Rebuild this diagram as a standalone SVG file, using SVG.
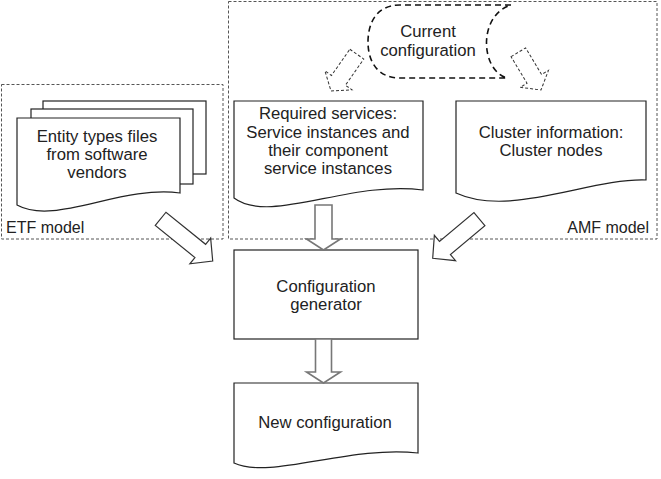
<svg xmlns="http://www.w3.org/2000/svg" width="661" height="479" viewBox="0 0 661 479">
<style>
text{font-family:"Liberation Sans",Arial,sans-serif;font-size:16.7px;fill:#222;text-anchor:middle}
text.lbl{font-size:16px}
.grp{fill:none;stroke:#555;stroke-width:1;stroke-dasharray:3,2}
.doc{fill:#fff;stroke:#222;stroke-width:1.2}
.blk{fill:#fff;stroke:#333;stroke-width:1.2}
.vblk{fill:#fff;stroke:#777;stroke-width:1.6}
.dsh{fill:#fff;stroke:#333;stroke-width:1;stroke-dasharray:3,2}
.store{fill:#fff;stroke:#111;stroke-width:1.6;stroke-dasharray:6,4}
</style>
<g id="etf-model">
<rect class="grp" x="1.5" y="84.5" width="221.5" height="154.5"/>
<text class="lbl" x="6" y="233" style="text-anchor:start">ETF model</text>
</g>
<g id="amf-model">
<rect class="grp" x="228.5" y="1.5" width="428.5" height="237.5"/>
<text class="lbl" x="649" y="233" style="text-anchor:end">AMF model</text>
</g>
<g id="entity-files">
<rect class="doc" x="43" y="101" width="163" height="73"/>
<rect class="doc" x="31" y="109" width="162" height="75"/>
<path class="doc" d="M17,118 H180 V193 C120,185 55,226 17,205 Z"/>
<text x="97" y="142">Entity types files</text>
<text x="97" y="160">from software</text>
<text x="97" y="178">vendors</text>
</g>
<g id="current-configuration">
<path class="store" d="M511,5 H400 C375,5 368,25 368,42 C368,62 378,78 400,78 H507 C480,70 478,15 511,5 Z"/>
<text x="428" y="37">Current</text>
<text x="428" y="56">configuration</text>
</g>
<g id="required-services">
<path class="doc" d="M234,101 H423 V190 C350,180 270,225 234,198 Z"/>
<text x="328" y="119">Required services:</text>
<text x="328" y="137.5">Service instances and</text>
<text x="328" y="156">their component</text>
<text x="328" y="174">service instances</text>
</g>
<g id="cluster-information">
<path class="doc" d="M456,101 H646 V180 C590,178 510,218 456,193 Z"/>
<text x="551" y="138">Cluster information:</text>
<text x="551" y="156">Cluster nodes</text>
</g>
<g id="configuration-generator">
<rect class="doc" x="234" y="250" width="184" height="89"/>
<text x="326" y="292">Configuration</text>
<text x="326" y="310">generator</text>
</g>
<g id="new-configuration">
<path class="doc" d="M234,383 H418 V453 C350,445 270,480 234,463 Z"/>
<text x="325" y="428">New configuration</text>
</g>
<g id="connectors">
<path class="dsh" transform="translate(331,91) rotate(35)" d="M-8.5,-45 H8.5 V-13 H16.5 L0,0 L-16.5,-13 H-8.5 Z"/>
<path class="dsh" transform="translate(541,90) rotate(-31)" d="M-8.5,-44 H8.5 V-13 H16.5 L0,0 L-16.5,-13 H-8.5 Z"/>
<path class="vblk" transform="translate(323.5,250)" d="M-8.5,-45 H8.5 V-11 H17 L0,0 L-17,-11 H-8.5 Z"/>
<path class="blk" transform="translate(212.7,261) rotate(-51)" d="M-8.5,-67 H8.5 V-16 H16.5 L0,0 L-16.5,-16 H-8.5 Z"/>
<path class="blk" transform="translate(432.7,258.3) rotate(50)" d="M-8.5,-61 H8.5 V-16 H16.5 L0,0 L-16.5,-16 H-8.5 Z"/>
<path class="vblk" transform="translate(323.5,383)" d="M-8,-44 H8 V-11 H17 L0,0 L-17,-11 H-8 Z"/>
</g>
</svg>
